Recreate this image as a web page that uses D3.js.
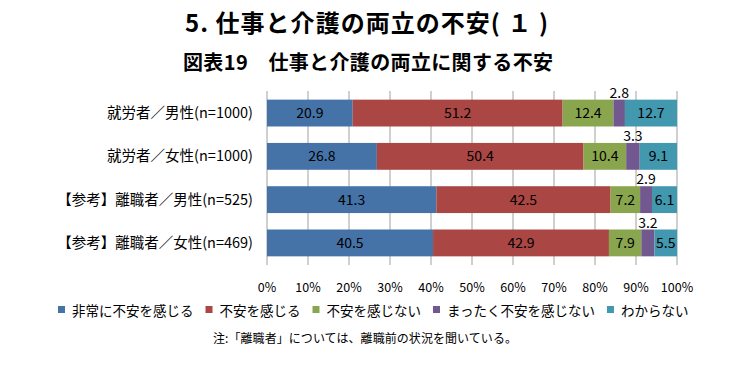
<!DOCTYPE html>
<html>
<head>
<meta charset="utf-8">
<script src="https://cdn.jsdelivr.net/npm/d3@7"></script>
<style>
  body { margin: 0; background: #fff; }
  text { font-family: "Noto Sans CJK JP", sans-serif; fill: #000; }
</style>
</head>
<body>
<svg id="chart" width="743" height="374"></svg>
<script>
const categories = [
  "就労者／男性(n=1000)",
  "就労者／女性(n=1000)",
  "【参考】離職者／男性(n=525)",
  "【参考】離職者／女性(n=469)"
];
const seriesNames = ["非常に不安を感じる", "不安を感じる", "不安を感じない", "まったく不安を感じない", "わからない"];
const colors = ["#4572A7", "#AA4643", "#89A54E", "#71588F", "#4198AF"];
const veryAnxious = [20.9, 26.8, 41.3, 40.5];
const anxious = [51.2, 50.4, 42.5, 42.9];
const notAnxious = [12.4, 10.4, 7.2, 7.9];
const notAtAll = [2.8, 3.3, 2.9, 3.2];
const dontKnow = [12.7, 9.1, 6.1, 5.5];
const xTicks = [0, 10, 20, 30, 40, 50, 60, 70, 80, 90, 100];

const series = [veryAnxious, anxious, notAnxious, notAtAll, dontKnow];
const svg = d3.select("#chart");

const plotLeft = 267, plotRight = 677, plotTop = 91, plotBottom = 265;

// titles
svg.append("text")
  .attr("x", 185).attr("y", 32)
  .attr("textLength", 363)
  .style("font-size", "24px").style("font-weight", "bold")
  .text("5. 仕事と介護の両立の不安( １ )");
svg.append("text")
  .attr("x", 183).attr("y", 70)
  .attr("textLength", 370)
  .style("font-size", "20px").style("font-weight", "bold")
  .text("図表19　仕事と介護の両立に関する不安");

let x = d3.scaleLinear().domain([0, 100]).range([plotLeft, plotRight]);
let y = d3.scaleBand().domain(categories).range([plotTop, plotBottom]).paddingInner(0.38).paddingOuter(0.2);

// gridlines
svg.append("g").selectAll("line")
  .data(xTicks)
  .enter().append("line")
  .attr("x1", d => x(d)).attr("x2", d => x(d))
  .attr("y1", plotTop).attr("y2", plotBottom)
  .attr("stroke", "#a0a0a0").attr("stroke-width", 1);

// stacked segments
const rows = categories.map((c, i) => {
  let acc = 0;
  return series.map((s, k) => {
    const seg = { cat: c, k: k, v: s[i], x0: acc, x1: acc + s[i] };
    acc += s[i];
    return seg;
  });
}).flat();

svg.append("g").selectAll("rect")
  .data(rows)
  .enter().append("rect")
  .attr("x", d => x(d.x0))
  .attr("y", d => y(d.cat))
  .attr("width", d => x(d.x1) - x(d.x0))
  .attr("height", y.bandwidth())
  .attr("fill", d => colors[d.k]);

// value labels
svg.append("g").selectAll("text")
  .data(rows)
  .enter().append("text")
  .attr("x", d => x((d.x0 + d.x1) / 2))
  .attr("y", d => d.k === 3 ? y(d.cat) - 2 : y(d.cat) + y.bandwidth() / 2 + 5)
  .attr("text-anchor", "middle")
  .style("font-size", "14px")
  .text(d => d.v.toFixed(1));

// category labels
svg.append("g").selectAll("text")
  .data(categories)
  .enter().append("text")
  .attr("x", 253)
  .attr("y", d => y(d) + y.bandwidth() / 2 + 5)
  .attr("text-anchor", "end")
  .style("font-size", "14.5px")
  .text(d => d);

// x tick labels
svg.append("g").selectAll("text")
  .data(xTicks)
  .enter().append("text")
  .attr("x", d => x(d))
  .attr("y", 292)
  .attr("text-anchor", "middle")
  .style("font-size", "12.5px")
  .text(d => d + "%");

// legend
let lx = 58;
const legend = svg.append("g");
seriesNames.forEach((name, k) => {
  legend.append("rect")
    .attr("x", lx).attr("y", 306)
    .attr("width", 7).attr("height", 7)
    .attr("fill", colors[k]);
  const t = legend.append("text")
    .attr("x", lx + 14).attr("y", 316)
    .style("font-size", "13.5px")
    .text(name);
  lx += 14 + t.node().getComputedTextLength() + 12;
});

// note
svg.append("text")
  .attr("x", 213).attr("y", 343)
  .attr("textLength", 304)
  .style("font-size", "12px")
  .text("注:「離職者」については、離職前の状況を聞いている。");
</script>
</body>
</html>
